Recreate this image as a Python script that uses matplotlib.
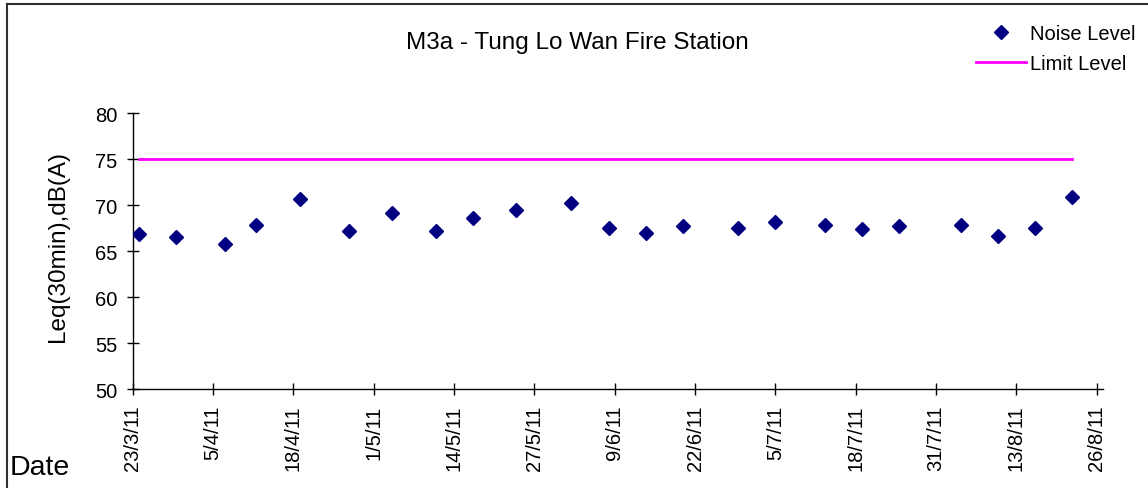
import numpy as np
import matplotlib
matplotlib.use('Agg')
import matplotlib.pyplot as plt
import matplotlib.dates as mdates
from matplotlib.lines import Line2D
from datetime import datetime, timedelta

plt.rcParams['font.family'] = ['Liberation Sans', 'DejaVu Sans']

# Du lieu do tu bieu do
dates = ['2011-03-24', '2011-03-30', '2011-04-07', '2011-04-12', '2011-04-19',
         '2011-04-27', '2011-05-04', '2011-05-11', '2011-05-17', '2011-05-24',
         '2011-06-02', '2011-06-08', '2011-06-14', '2011-06-20', '2011-06-29',
         '2011-07-05', '2011-07-13', '2011-07-19', '2011-07-25', '2011-08-04',
         '2011-08-10', '2011-08-16', '2011-08-22']
noise = [66.9, 66.6, 65.8, 67.9, 70.7, 67.2, 69.2, 67.2, 68.6, 69.5,
         70.3, 67.5, 67.0, 67.7, 67.5, 68.2, 67.9, 67.4, 67.7, 67.9,
         66.7, 67.5, 70.9]
limit = [75] * len(dates)
tick_dates = ['2011-03-23', '2011-04-05', '2011-04-18', '2011-05-01', '2011-05-14',
              '2011-05-27', '2011-06-09', '2011-06-22', '2011-07-05', '2011-07-18',
              '2011-07-31', '2011-08-13', '2011-08-26']
y_ticks = [50, 55, 60, 65, 70, 75, 80]

x = [datetime.strptime(d, '%Y-%m-%d') for d in dates]
xt = [datetime.strptime(d, '%Y-%m-%d') for d in tick_dates]

W, H = 1148, 489
fig = plt.figure(figsize=(W / 100, H / 100), dpi=100)
ax = fig.add_axes([132.7 / W, 1 - 390.3 / H, (1103 - 132.7) / W, (390.3 - 114.3) / H])

ax.plot(x, limit, color='#FF00FF', lw=2, label='Limit Level', zorder=2)
ax.plot(x, noise, ls='none', marker='D', ms=7, color='#000080', label='Noise Level', zorder=3)

ax.set_xlim(xt[0], xt[0] + timedelta(days=157))
ax.set_ylim(50, 80)
ax.set_yticks(y_ticks)
ax.set_xticks(xt)
ax.xaxis.set_major_formatter(plt.FuncFormatter(
    lambda v, p: (lambda d: f"{d.day}/{d.month}/{d.strftime('%y')}")(mdates.num2date(v))))
for lab in ax.get_xticklabels():
    lab.set_rotation(90)

for s in ['top', 'right']:
    ax.spines[s].set_visible(False)
for s in ['left', 'bottom']:
    ax.spines[s].set_linewidth(1.0)
ax.tick_params(axis='both', direction='inout', length=8, width=1.0, labelsize=14.5)
ax.tick_params(axis='x', pad=7)
ax.tick_params(axis='y', pad=7)

ax.set_ylabel('Leq(30min),dB(A)', fontsize=17.5)
ax.yaxis.set_label_coords(-0.066, 0.52)

fig.text(577 / W, 1 - 43 / H, 'M3a - Tung Lo Wan Fire Station', ha='center', va='center', fontsize=17.5)
fig.text(9.5 / W, 1 - 475 / H, 'Date', ha='left', va='baseline', fontsize=20.5)

h, l = ax.get_legend_handles_labels()
fig.legend(h[::-1], l[::-1], loc='upper left', bbox_to_anchor=(976 / W, 1 - 25 / H),
           frameon=False, fontsize=14.5, borderpad=0, borderaxespad=0,
           handlelength=2.5, handletextpad=0.2, labelspacing=0.55, numpoints=1)

# khung vien ngoai
fig.add_artist(Line2D([7 / W, 7 / W], [0, 1 - 5 / H], color='#303030', lw=1.5))
fig.add_artist(Line2D([7 / W, 1], [1 - 5 / H, 1 - 5 / H], color='#303030', lw=1.5))

fig.savefig('out.png', dpi=100)
